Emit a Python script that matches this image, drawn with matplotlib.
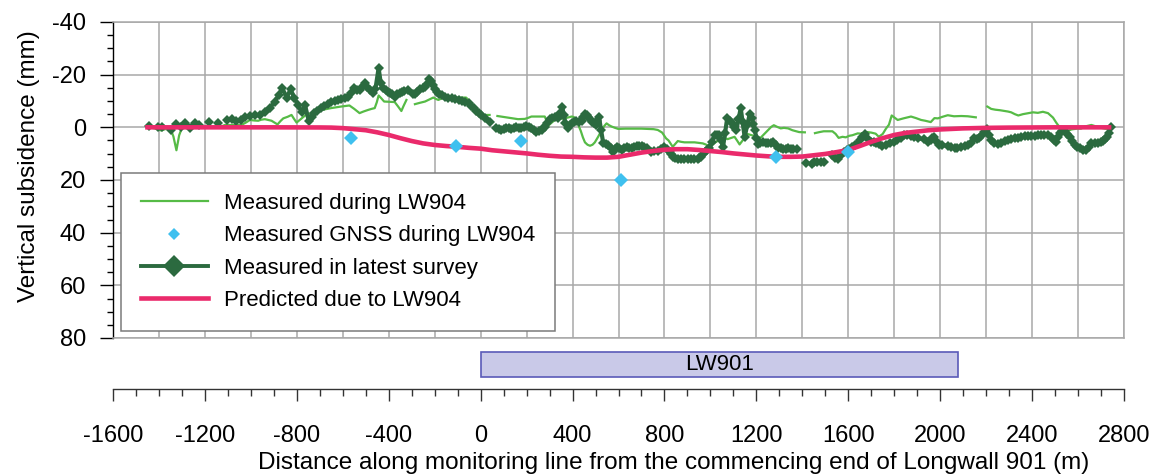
import numpy as np
import matplotlib
matplotlib.use("Agg")
import matplotlib.pyplot as plt
from matplotlib.lines import Line2D
from matplotlib.ticker import MultipleLocator

plt.rcParams['font.family'] = ['Liberation Sans', 'DejaVu Sans']
plt.rcParams['axes.unicode_minus'] = False

nan = np.nan

# ---------------- data ----------------
# Measured in latest survey (dark green); NaN = gap
latest_x = [-1445, nan, -1404, -1385, nan,
            -1346, -1324, -1305, -1285, -1266, -1244, -1227, nan, -1183, nan, -1143, nan,
            -1106, -1084, -1063, -1044, -1026, -1004, -983, -961, -939, -917, -896, -878, -863, -844,
            -827, -811, -794, -779, -764, -748, -735, -724, -710, -695, -680, -666, -650, -636, -620,
            -607, -592, -578, -563, -549, -538, -527, -515, -505, -494, -483, -470, -458, -444, -435,
            -425, -414, -403, -394, -385, -371, -362, -352, -342, -333, -318, nan,
            -293, -286, -275, -264, -253, -242, -233, -225, -215, -206, -198, -191, -180, -169, -155,
            -140, -126, -111, -96, -82, -67, -52, -42, -31, -20, -9, 3, 20, 39, nan,
            68, 79, 90, 101, 112, 123, 134, 145, 156, 167, 177, 188, 199, 210, 221, 232, 243, 254, 265,
            272, 279, 290, 301, 312, 323, 337, 346, 355, 362, 369, 381, 388, 396, 406, 417, 428, 439,
            447, 454, 461, 468, 477, 486, 494, 501, 508, 515, 524, 534, 545, 556, 566, 575, 583, 592,
            603, 614, 625, 636, 647, 657, 668, 679, 690, 701, 712, 723, 742, 756, 771, 786, 800, 811,
            822, 829, 836, 847, 858, 872, 887, 901, 916, 930, 945, 952, 960, 967, 975, 985, 996, 1007,
            1018, 1027, 1036, 1046, 1055, 1064, 1073, 1084, 1094, 1104, 1113, 1122, 1132, 1140, 1149,
            1160, 1171, 1181, 1187, 1193, 1200, 1207, 1218, 1229, 1240, 1251, 1262, 1273, 1284, 1295,
            1306, 1316, 1327, 1338, 1349, 1360, 1375, nan, 1415, nan,
            1440, 1452, 1465, 1480, 1495, nan,
            1531, 1543, 1554, 1567, 1580, 1593, 1605, 1618, 1630, 1640, 1650, 1660, 1672, 1685, 1698,
            1710, 1722, 1733, 1748, 1763, 1780, 1798, 1812, 1828, 1843, 1857, 1872, 1887, 1905, 1929,
            1945, 1959, 1966, 1973, 1985, 1994, 2010, 2032, 2048, 2063, 2075, 2092, 2106, 2119, 2133,
            2147, 2160, 2170, 2179, 2192, 2203, 2213, 2222, 2236, 2251, 2266, 2280, 2295, 2309, 2324,
            2338, 2352, 2367, 2382, 2396, 2411, 2425, 2440, 2454, 2469, 2484, 2495, 2503, 2512, 2520,
            2531, 2542, 2553, 2564, 2575, 2585, 2596, 2607, 2622, 2636, 2648, 2658, 2672, 2687, 2699,
            2709, 2717, 2724, 2733, 2742]
latest_y = [-0.5, nan, -0.3, -0.3, nan,
            1.0, -1.1, -0.3, -1.7, 0.4, -1.5, -0.9, nan, -2.2, nan, -1.8, nan,
            -2.7, -3.1, -2.4, -2.7, -3.9, -4.3, -4.5, -4.7, -6.0, -7.3, -9.8, -12.4, -14.8, -11.3,
            -14.5, -11.1, -8.5, -5.7, -8.3, -2.5, -4.0, -5.4, -6.2, -7.3, -8.0, -8.8, -9.5, -10.1, -10.5,
            -10.8, -11.3, -11.7, -13.0, -14.9, -14.0, -14.3, -15.5, -16.8, -15.5, -14.3, -13.0, -14.5, -22.5, -17.0,
            -14.9, -14.3, -13.6, -13.0, -12.6, -11.7, -12.5, -13.0, -13.5, -13.9, -14.3, nan,
            -12.5, -12.7, -13.5, -14.5, -15.0, -15.2, -16.5, -18.5, -17.5, -16.2, -14.5, -13.6, -12.8, -12.1, -11.6,
            -11.3, -11.0, -10.8, -10.5, -10.1, -9.7, -9.2, -8.2, -7.3, -6.2, -5.4, -4.7, -3.5, -2.2, nan,
            0.4, 0.8, 1.0, 0.5, 0.1, 0.4, 0.6, 0.1, -0.3, 0.2, 0.4, -0.1, -0.5, 0.0, 0.4, 1.2, 1.7, 1.5, 1.0,
            0.4, -0.3, -1.8, -3.2, -3.6, -4.1, -3.4, -5.5, -7.9, -4.5, -1.5, 0.4, -0.8, -1.5, -2.0, -2.4, -2.2, -2.4,
            -3.8, -5.0, -4.6, -4.1, -3.0, -2.2, -1.5, -0.9, -2.5, -4.1, 1.0, 6.1, 6.5, 6.8, 8.0, 9.3, 8.3, 7.4,
            8.0, 8.7, 8.0, 7.6, 7.8, 7.8, 7.4, 7.0, 7.0, 7.1, 7.5, 7.8, 9.3, 9.0, 9.0, 8.2, 7.4, 8.2,
            9.3, 10.3, 11.2, 11.7, 12.1, 12.1, 12.1, 12.1, 12.1, 12.1, 12.1, 11.8, 11.2, 10.3, 9.3, 8.6, 8.0, 5.5,
            2.9, 2.9, 2.9, 5.0, 7.4, 2.0, -3.4, -2.5, -1.5, -0.3, 1.0, -3.0, -7.3, -2.0, 3.6,
            -0.7, -5.0, -3.4, -1.2, 1.0, 4.0, 6.5, 6.0, 5.7, 6.0, 6.1, 5.9, 5.7, 6.8, 7.8,
            8.0, 8.4, 8.2, 8.0, 8.2, 8.4, 8.4, nan, 13.4, nan,
            13.8, 13.2, 13.2, 13.3, 13.1, nan,
            10.5, 11.5, 12.0, 10.5, 9.5, 8.5, 8.2, 7.5, 6.8, 6.5, 5.0, 3.5, 2.7, 4.5, 5.5,
            5.6, 5.8, 6.4, 6.9, 6.8, 5.9, 5.5, 5.0, 4.2, 3.0, 2.8, 3.2, 3.8, 4.1, 4.6,
            5.5, 4.8, 4.0, 3.8, 5.5, 6.6, 6.8, 7.0, 7.5, 7.9, 8.0, 7.6, 7.0, 6.6, 5.8,
            4.0, 4.6, 4.2, 3.2, 1.8, 0.7, 2.8, 4.8, 5.8, 6.5, 5.8, 5.2, 4.8, 4.5, 4.2,
            3.9, 3.6, 3.2, 3.2, 3.3, 3.3, 3.1, 3.0, 2.8, 3.0, 3.6, 4.8, 5.7, 3.5, 2.3,
            1.5, 1.4, 2.4, 3.6, 5.3, 6.8, 7.6, 8.0, 8.6, 8.7, 7.5, 6.1, 6.1, 6.1, 5.6,
            5.2, 4.4, 3.6, 2.0, -0.3]

# Measured during LW904 (light green)
lw904_x = [-1420, -1405, -1390, -1370, -1350, -1337, -1324, -1312, -1300, -1270, -1240, -1210, -1180,
           -1150, -1130, -1113, -1080, -1041, -1020, -1004, -985, -968, -955, -939, -925, -910, -897,
           -884, -872, -859, -840, -823, -812, -801, -790, -779, -768, -757, -750, -730, -710, -680,
           -651, -630, -607, -590, -571, -550, -527, -510, -490, -475, -461, -452, -444, -432, -420,
           -400, -374, -360, -345, -335, -323, nan,
           -286, -265, -242, -225, -206, -195, -184, -170, -155, -140, -126, -110, -96, -80, -63, -45,
           -30, -15, -4, 20, 39, nan,
           73, 96, 119, 141, 163, 192, 207, 221, 250, 279, 287, 294, 308, 323, 345, 370, 396, 406,
           417, 427, 436, 445, 454, 465, 476, 487, 497, 512, 527, 538, 548, 559, 570, 585, 599, 630,
           665, 700, 730, 753, 771, 790, 807, 818, 827, 836, 847, 858, 872, 887, 910, 931, 950, 967,
           982, 996, 1010, 1025, 1045, 1062, 1074, 1084, 1095, 1105, 1116, 1127, 1140, 1160, 1180,
           1200, 1218, 1235, 1250, 1265, 1276, 1290, 1306, 1320, 1338, 1357, 1370, 1386, 1411, nan,
           1455, 1475, 1493, 1510, 1531, 1545, 1558, 1575, 1589, 1605, 1618, 1641, 1654, 1670, 1683,
           1700, 1719, 1733, 1750, 1764, 1777, 1789, 1800, 1815, 1840, 1873, 1895, 1917, 1935, 1959,
           1975, 1990, 2010, 2033, 2060, 2092, 2120, 2155, nan,
           2205, 2222, 2240, 2260, 2280, 2295, 2309, 2325, 2340, 2360, 2380, 2404, 2425, 2447, 2469,
           2491, 2505, 2520, 2535, 2549, 2571, 2595, 2613, 2629, 2658, 2680, 2700, 2716, 2730]
lw904_y = [0.4, 0.8, 1.2, 0.6, 0.5, 3.5, 8.7, 3.0, 0.2, 0.1, 0.2, 0.0, 0.0,
           0.0, -0.3, -0.9, -0.9, -0.9, -1.9, -2.8, -2.6, -2.5, -2.9, -3.1, -2.8, -2.5, -1.8,
           -1.1, -2.3, -3.4, -4.0, -4.7, -3.2, -1.8, -2.6, -3.4, -4.2, -5.0, -5.0, -5.6, -6.2, -6.8,
           -7.3, -7.6, -7.9, -8.1, -8.3, -7.0, -5.4, -6.0, -6.6, -7.0, -7.3, -9.5, -12.1, -11.0, -9.8,
           -9.7, -9.6, -8.0, -6.2, -8.2, -10.4, nan,
           -8.8, -9.3, -9.8, -10.5, -11.3, -10.8, -10.4, -11.0, -11.6, -11.4, -11.1, -11.2, -11.3, -11.3, -11.3, -9.5,
           -7.5, -5.8, -4.7, -4.7, -4.7, nan,
           -4.3, -4.0, -3.7, -3.4, -3.1, -3.2, -3.6, -4.1, -4.1, -4.1, -2.5, -0.6, -1.7, -2.8, -3.2, -3.5, -4.1, -3.9,
           -2.8, -0.5, 1.4, 3.8, 5.7, 6.6, 7.0, 6.6, 5.7, 3.5, 1.0, -0.5, -1.5, -0.8, -0.3, 0.2, 0.6, 0.5,
           0.5, 0.5, 0.6, 0.7, 1.0, 2.0, 4.2, 5.0, 6.2, 7.4, 6.3, 5.2, 5.5, 5.7, 5.7, 5.7, 5.9, 6.1,
           6.6, 7.4, 6.5, 5.5, 4.5, 3.9, 4.5, 4.2, 3.9, 3.6, 5.0, 6.5, 5.0, 2.5, 3.0,
           3.5, 4.0, 2.5, 1.2, -0.2, -0.8, -0.2, 0.4, 0.2, 0.4, 1.1, 1.4, 1.8, 1.9, nan,
           2.2, 1.8, 1.5, 1.5, 1.5, 2.5, 4.0, 3.6, 3.8, 3.2, 3.0, 2.3, 2.4, 2.0, 1.8,
           2.0, 2.4, 3.6, 2.5, 0.5, -1.0, -4.5, -3.8, -2.8, -3.4, -4.1, -3.5, -2.8, -2.5, -2.0,
           -3.5, -3.4, -4.0, -4.6, -4.2, -4.3, -4.2, -3.8, nan,
           -7.9, -7.0, -6.7, -6.5, -6.2, -6.0, -5.7, -5.0, -4.5, -5.0, -5.3, -5.7, -5.5, -5.9, -5.4,
           -3.7, -1.8, 0.0, 1.3, 1.7, 0.8, 0.5, 0.5, -0.3, -0.9, -0.3, 0.2, 0.5, 0.7]

# Measured GNSS during LW904
gnss_x = [-565, -106, 177, 609, 1287, 1599]
gnss_y = [4.1, 7.0, 5.2, 20.1, 11.1, 9.2]

# Predicted due to LW904
pred_x = [-1460, -1300, -1100, -900, -700, -650, -600, -550, -500, -450, -400, -350, -300, -250,
          -200, -150, -100, -50, 0, 50, 100, 150, 200, 250, 300, 350, 400, 450, 500, 550, 600, 650,
          700, 750, 800, 850, 900, 950, 1000, 1050, 1100, 1150, 1200, 1250, 1300, 1350, 1400, 1450,
          1500, 1550, 1600, 1650, 1700, 1750, 1800, 1850, 1900, 1950, 2000, 2050, 2100, 2200, 2300,
          2400, 2500, 2745]
pred_y = [0, 0, 0, 0, 0.05, 0.1, 0.3, 0.7, 1.1, 1.9, 2.9, 4.1, 5.2, 6.1,
          6.7, 7.1, 7.4, 7.8, 8.1, 8.7, 9.1, 9.5, 9.9, 10.4, 10.8, 11.1, 11.2, 11.4, 11.5, 11.5, 11.2, 10.4,
          9.6, 9.0, 8.5, 8.3, 8.3, 8.6, 9.0, 9.4, 9.9, 10.3, 10.7, 11.0, 11.2, 11.2, 11.1, 10.6,
          10.1, 9.4, 8.6, 7.1, 5.5, 4.1, 2.9, 2.1, 1.6, 1.1, 0.8, 0.6, 0.4, 0.2, 0.1,
          0.05, 0, 0]

# Longwall panel
panel_label = "LW901"
panel_start = 0
panel_end = 2077

labels = ["Measured during LW904", "Measured GNSS during LW904",
          "Measured in latest survey", "Predicted due to LW904"]

# ---------------- styling ----------------
C_LIGHT = '#56bb46'
C_DARK = '#2b6a3f'
C_RED = '#ea2a6b'
C_BLUE = '#3fc0ef'
C_GRID = '#a8a8a8'
FS = 16

W, H = 1151, 474
fig = plt.figure(figsize=(W / 100, H / 100), dpi=100)

L, R, T, B = 113, 1124, 22, 338
ax = fig.add_axes([L / W, 1 - B / H, (R - L) / W, (B - T) / H])
ax.set_xlim(-1600, 2800)
ax.set_ylim(80, -40)

ax.plot(lw904_x, lw904_y, color=C_LIGHT, lw=1.6, zorder=3)
ax.plot(latest_x, latest_y, color=C_DARK, lw=3.0, marker='D', ms=5.0, mew=0, zorder=4)
ax.plot(pred_x, pred_y, color=C_RED, lw=3.3, zorder=5, solid_capstyle='butt')
ax.plot(gnss_x, gnss_y, ls='none', marker='D', ms=7, color=C_BLUE, mew=0, zorder=6)

ax.set_xticks(np.arange(-1600, 2801, 200))
ax.tick_params(axis='x', length=0, labelbottom=False)
ax.yaxis.set_major_locator(MultipleLocator(20))
ax.yaxis.set_minor_locator(MultipleLocator(5))
ax.tick_params(axis='y', which='major', direction='out', length=9.5, width=1, labelsize=17, pad=10)
ax.tick_params(axis='y', which='minor', direction='out', length=4.5, width=1)
ax.grid(True, which='major', color=C_GRID, lw=1.1, zorder=0)
ax.set_axisbelow(True)
for s in ['top', 'right', 'bottom']:
    ax.spines[s].set_color(C_GRID)
    ax.spines[s].set_linewidth(1.1)
ax.spines['left'].set_color('black')
ax.spines['left'].set_linewidth(1.0)

ax.set_ylabel("Vertical subsidence (mm)", fontsize=17.5)
ax.yaxis.set_label_coords(-0.072, 0.545)

handles = [
    Line2D([], [], color=C_LIGHT, lw=1.6),
    Line2D([], [], ls='none', marker='D', ms=6, color=C_BLUE, mew=0),
    Line2D([], [], color=C_DARK, lw=2.8, marker='D', ms=11, mew=0),
    Line2D([], [], color=C_RED, lw=3.3),
]
leg = ax.legend(handles, labels, loc='upper left', bbox_to_anchor=(121 / W, 1 - 173 / H),
                bbox_transform=fig.transFigure, borderaxespad=0, fontsize=FS,
                handlelength=3.0, handletextpad=0.72, labelspacing=0.51, borderpad=0.9,
                fancybox=False, framealpha=1, edgecolor='#7a7a7a')
leg.get_frame().set_linewidth(1.1)
leg.set_zorder(10)

# bottom strip with panel and distance axis
B2_top, B2_bot = 345, 389
ax2 = fig.add_axes([L / W, 1 - B2_bot / H, (R - L) / W, (B2_bot - B2_top) / H])
ax2.set_xlim(-1600, 2800)
ax2.set_ylim(0, 1)
ax2.barh(0.555, panel_end - panel_start, left=panel_start, height=0.57,
         color='#c9c9e8', edgecolor='#5a5ab8', linewidth=1.2)
ax2.text((panel_start + panel_end) / 2, 0.555, panel_label, ha='center', va='center', fontsize=FS)
for s in ['top', 'right', 'left']:
    ax2.spines[s].set_visible(False)
ax2.spines['bottom'].set_linewidth(1.0)
ax2.spines['bottom'].set_color('#333333')
ax2.set_yticks([])
ax2.xaxis.set_major_locator(MultipleLocator(400))
ax2.xaxis.set_minor_locator(MultipleLocator(100))
ax2.tick_params(axis='x', which='major', direction='out', length=8.5, width=1, color='#333333',
                labelsize=17, pad=17.5)
ax2.tick_params(axis='x', which='minor', direction='out', length=5, width=1, color='#333333')
ax2.set_xlabel("Distance along monitoring line from the commencing end of Longwall 901 (m)", fontsize=17.5)
ax2.xaxis.set_label_coords(0.555, -1.44)
ax2.patch.set_alpha(0)

fig.savefig("out.png", dpi=100)
